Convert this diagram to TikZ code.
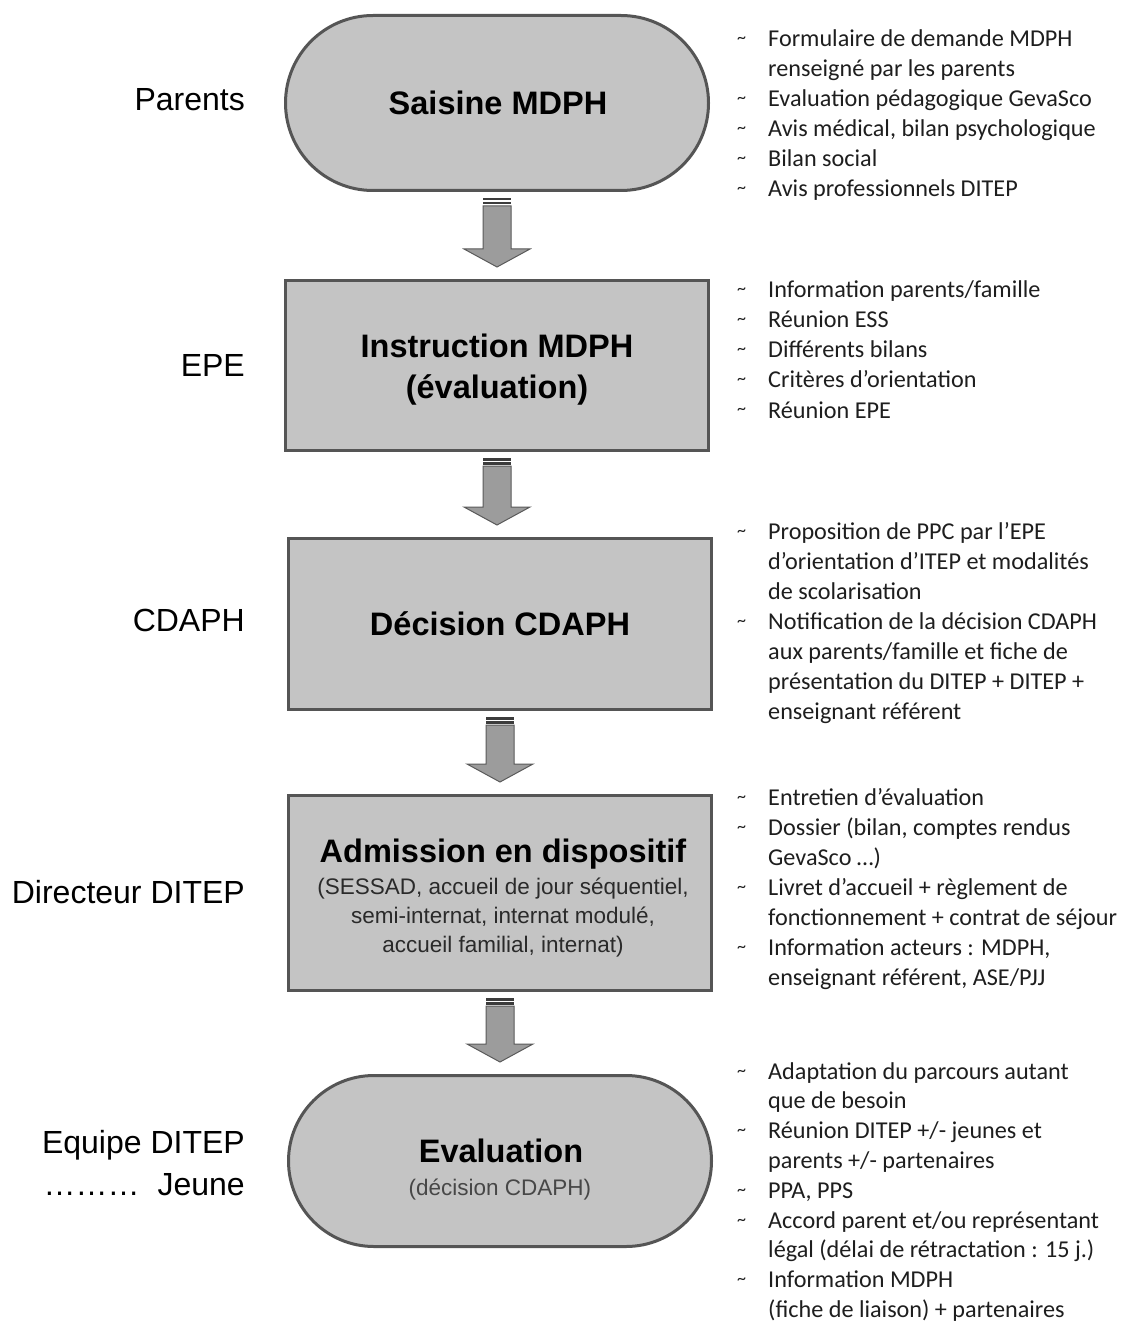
\documentclass[tikz,border=0pt]{standalone}
\usepackage{fontspec}
\setmainfont{Liberation Sans}
\newfontfamily\notefont{Carlito}
\usetikzlibrary{calc}

\definecolor{boxfill}{HTML}{C4C4C4}
\definecolor{boxline}{HTML}{555555}
\definecolor{arrowfill}{HTML}{9C9C9C}
\definecolor{arrowline}{HTML}{5A5A5A}
\definecolor{stripe}{HTML}{3C3C3C}
\definecolor{subtext}{HTML}{2A2A2A}
\definecolor{softtext}{HTML}{474747}
\definecolor{notetext}{HTML}{1E1E1E}

% bullet and items of the side notes
\newcommand\notebullet{\makebox[31pt][l]{\raisebox{3pt}{\fontsize{18}{18}\selectfont\textasciitilde}}}
\newcommand\noteitem[1]{\hangindent=31pt\hangafter=1\noindent\notebullet#1\par}
\newcommand\notelist[2]{\parbox[t]{388pt}{\notefont\fontsize{24.2}{#1}\selectfont
  \lineskiplimit=-50pt\parindent=0pt\parskip=0pt#2}}

% block arrow with two stripes, from one stage to the next
\newcommand\flowarrow[2]{%
  \coordinate (fa-top) at ($(#1.south)+(0,6)$);
  \coordinate (fa-tip) at ($(fa-top |- #2.north)+(0,-12)$);
  \fill[stripe] ($(fa-top)+(-14,0)$) rectangle ($(fa-top)+(14,2.5)$);
  \fill[stripe] ($(fa-top)+(-14,4)$) rectangle ($(fa-top)+(14,6.5)$);
  \draw[draw=arrowline, fill=arrowfill, line width=1pt, line join=miter]
    ($(fa-top)+(-14,8)$) -- ($(fa-tip)+(-14,-18)$) -- ($(fa-tip)+(-33,-18)$)
    -- (fa-tip) -- ($(fa-tip)+(33,-18)$) -- ($(fa-tip)+(14,-18)$)
    -- ($(fa-top)+(14,8)$) -- cycle;
}

\tikzset{
  stage/.style={draw=boxline, line width=3pt, fill=boxfill,
    minimum width=423pt, inner sep=0pt},
  title/.style={font=\bfseries\fontsize{32.5}{38}\selectfont, anchor=base, inner sep=0pt},
  detail/.style={font=\fontsize{22.5}{29}\selectfont, text=subtext, anchor=base, inner sep=0pt},
  actor/.style={font=\fontsize{32}{38}\selectfont, anchor=base east, inner sep=0pt},
  notes/.style={anchor=base west, inner sep=0pt, text=notetext},
}

\begin{document}
\begin{tikzpicture}[x=1pt, y=-1pt]
\useasboundingbox[fill=white] (0,0) rectangle (1126,1321);

% stages
\node[stage, rounded corners=87.5pt, minimum height=175pt] (saisine) at (497,103) {};
\node[stage, minimum height=170pt] (instruction) at (497,365.5) {};
\node[stage, minimum height=171pt] (decision) at (500,624) {};
\node[stage, minimum height=195pt] (admission) at (500,893) {};
\node[stage, rounded corners=85.5pt, minimum height=171pt] (evaluation) at (500,1161) {};

% stage texts
\node[title] (t-saisine) at (498,115) {Saisine MDPH};
\node[title] (t-instr1) at (497,357) {Instruction MDPH};
\node[title] (t-instr2) at (497,398) {(évaluation)};
\node[title] (t-decision) at (500,635) {Décision CDAPH};
\node[title] (t-adm) at (503,862) {Admission en dispositif};
\node[detail] (d-adm1) at (503,894) {(SESSAD, accueil de jour séquentiel,};
\node[detail] (d-adm2) at (503,923) {semi-internat, internat modulé,};
\node[detail] (d-adm3) at (503,952) {accueil familial, internat)};
\node[title] (t-eval) at (501,1162) {Evaluation};
\node[detail, text=softtext] (d-eval) at (500,1195) {(décision CDAPH)};

% arrows between stages
\flowarrow{saisine}{instruction}
\flowarrow{instruction}{decision}
\flowarrow{decision}{admission}
\flowarrow{admission}{evaluation}

% actors
\node[actor] (a-parents) at (245,111) {Parents};
\node[actor] (a-epe) at (245,376) {EPE};
\node[actor] (a-cdaph) at (245,631) {CDAPH};
\node[actor] (a-dir) at (245,903) {Directeur DITEP};
\node[actor] (a-team) at (245,1153) {Equipe DITEP};
\node[actor] (a-young) at (245,1195) {………\hspace{18pt}Jeune};

% side notes
\node[notes] (n-saisine) at (737,47) {\notelist{30}{%
  \noteitem{Formulaire de demande MDPH\\renseigné par les parents}
  \noteitem{Evaluation pédagogique GevaSco}
  \noteitem{Avis médical, bilan psychologique}
  \noteitem{Bilan social}
  \noteitem{Avis professionnels DITEP}}};

\node[notes] (n-instr) at (737,298) {\notelist{30}{%
  \noteitem{Information parents/famille}
  \noteitem{Réunion ESS}
  \noteitem{Différents bilans}
  \noteitem{Critères d’orientation}
  \noteitem{Réunion EPE}}};

\node[notes] (n-decision) at (737,539) {\notelist{30}{%
  \noteitem{Proposition de PPC par l’EPE\\d’orientation d’ITEP et modalités\\de scolarisation}
  \noteitem{Notification de la décision CDAPH\\aux parents/famille et fiche de\\présentation du DITEP + DITEP +\\enseignant référent}}};

\node[notes] (n-adm) at (737,805) {\notelist{30}{%
  \noteitem{Entretien d’évaluation}
  \noteitem{Dossier (bilan, comptes rendus\\GevaSco …)}
  \noteitem{Livret d’accueil + règlement de\\fonctionnement + contrat de séjour}
  \noteitem{Information acteurs : MDPH,\\enseignant référent, ASE/PJJ}}};

\node[notes] (n-eval) at (737,1079) {\notelist{29.8}{%
  \noteitem{Adaptation du parcours autant\\que de besoin}
  \noteitem{Réunion DITEP +/- jeunes et\\parents +/- partenaires}
  \noteitem{PPA, PPS}
  \noteitem{Accord parent et/ou représentant\\légal (délai de rétractation : 15 j.)}
  \noteitem{Information MDPH\\(fiche de liaison) + partenaires}}};
\end{tikzpicture}
\end{document}
